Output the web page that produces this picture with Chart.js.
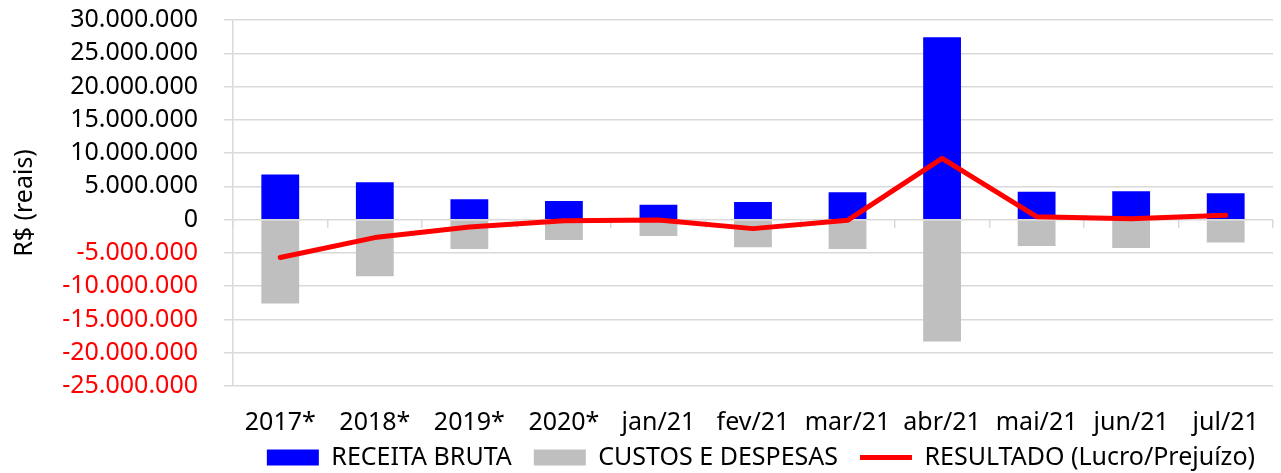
<!DOCTYPE html>
<html>
<head>
<meta charset="utf-8">
<script src="https://cdn.jsdelivr.net/npm/chart.js@4"></script>
<style>
  html, body { margin: 0; padding: 0; background: #fff; }
  #wrap { width: 1281px; height: 473px; }
</style>
</head>
<body>
<div id="wrap"><canvas id="chart"></canvas></div>
<script>
// Categories and values (R$)
const categories = ['2017*', '2018*', '2019*', '2020*', 'jan/21', 'fev/21', 'mar/21', 'abr/21', 'mai/21', 'jun/21', 'jul/21'];
const receitaBruta = [6800000, 5600000, 3050000, 2800000, 2250000, 2650000, 4100000, 27400000, 4200000, 4250000, 3950000];
const custosDespesas = [-12600000, -8500000, -4400000, -3050000, -2450000, -4150000, -4400000, -18300000, -3950000, -4250000, -3450000];
const resultado = [-5700000, -2700000, -1100000, -150000, -50000, -1350000, -100000, 9200000, 450000, 150000, 650000];
const yMin = -25000000;
const yMax = 30000000;
const yStep = 5000000;

const FONT = 'Noto Sans';
const GRID = '#d9d9d9';

// 30000000 -> "30.000.000"
function fmt(v) {
    const s = String(Math.abs(Math.round(v))).replace(/\B(?=(\d{3})+(?!\d))/g, '.');
    return (v < 0 ? '-' : '') + s;
}

// short legend band in the layout, then drawn a bit higher (overlapping the
// empty lower part of the x axis box) like in the picture
const legendPlace = {
    id: 'legendPlace',
    beforeInit(chart) {
        const fit = chart.legend.fit;
        chart.legend.fit = function () {
            fit.call(this);
            this.height = 35;
        };
    },
    afterLayout(chart) {
        const lg = chart.legend;
        lg.top = 423;
        lg.bottom = 473;
        lg.height = 50;
    }
};

const ctx = document.getElementById('chart').getContext('2d');
new Chart(ctx, {
    type: 'bar',
    data: {
        labels: categories,
        datasets: [
            {
                label: 'RECEITA BRUTA',
                data: receitaBruta,
                backgroundColor: '#0000ff',
                borderWidth: 0,
                barPercentage: 0.4,
                categoryPercentage: 1,
                pointStyle: 'rect',
                order: 1
            },
            {
                label: 'CUSTOS E DESPESAS',
                data: custosDespesas,
                backgroundColor: '#bfbfbf',
                borderWidth: 0,
                barPercentage: 0.4,
                categoryPercentage: 1,
                pointStyle: 'rect',
                order: 1
            },
            {
                type: 'line',
                label: 'RESULTADO (Lucro/Prejuízo)',
                data: resultado,
                borderColor: '#ff0000',
                backgroundColor: '#ff0000',
                borderWidth: 5,
                borderCapStyle: 'round',
                borderJoinStyle: 'round',
                pointRadius: 0,
                pointStyle: 'line',
                tension: 0,
                fill: false,
                order: 0
            }
        ]
    },
    plugins: [legendPlace],
    options: {
        responsive: true,
        maintainAspectRatio: false,
        animation: false,
        layout: { padding: { top: 0, right: 4, left: 0, bottom: 0 } },
        scales: {
            x: {
                stacked: true,
                afterFit: s => { s.height = 52; },
                grid: { display: false, drawTicks: false },
                border: { display: false },
                ticks: { color: '#000', font: { family: FONT, size: 25 }, padding: 22, maxRotation: 0, autoSkip: false }
            },
            // small tick marks on the zero line between categories
            xZero: {
                type: 'category',
                position: { y: 0 },
                grid: { drawOnChartArea: false, offset: true, tickLength: 8, color: GRID, lineWidth: 1.5 },
                border: { display: false },
                ticks: { display: false }
            },
            y: {
                min: yMin,
                max: yMax,
                afterFit: s => { s.width = 233; s.paddingTop = 20; s.paddingBottom = 0; },
                afterBuildTicks: s => {
                    s.ticks = [];
                    for (let v = yMin; v <= yMax; v += yStep) s.ticks.push({ value: v });
                },
                grid: { color: GRID, lineWidth: 1.5, tickLength: 9 },
                border: { display: true, color: GRID, width: 1.5 },
                ticks: {
                    autoSkip: false,
                    font: { family: FONT, size: 25 },
                    padding: 26,
                    color: c => (c.tick && c.tick.value < 0) ? '#ff0000' : '#000',
                    callback: v => fmt(v)
                },
                title: {
                    display: true,
                    text: 'R$ (reais)',
                    color: '#000',
                    font: { family: FONT, size: 25 },
                    padding: { top: 10, bottom: 0 }
                }
            }
        },
        plugins: {
            tooltip: { enabled: false },
            legend: {
                position: 'bottom',
                align: 'end',
                labels: {
                    color: '#000',
                    font: { family: FONT, size: 25 },
                    usePointStyle: true,
                    pointStyleWidth: 52,
                    boxHeight: 16,
                    padding: 22,
                    sort: (a, b) => a.datasetIndex - b.datasetIndex
                }
            }
        }
    }
});
</script>
</body>
</html>
